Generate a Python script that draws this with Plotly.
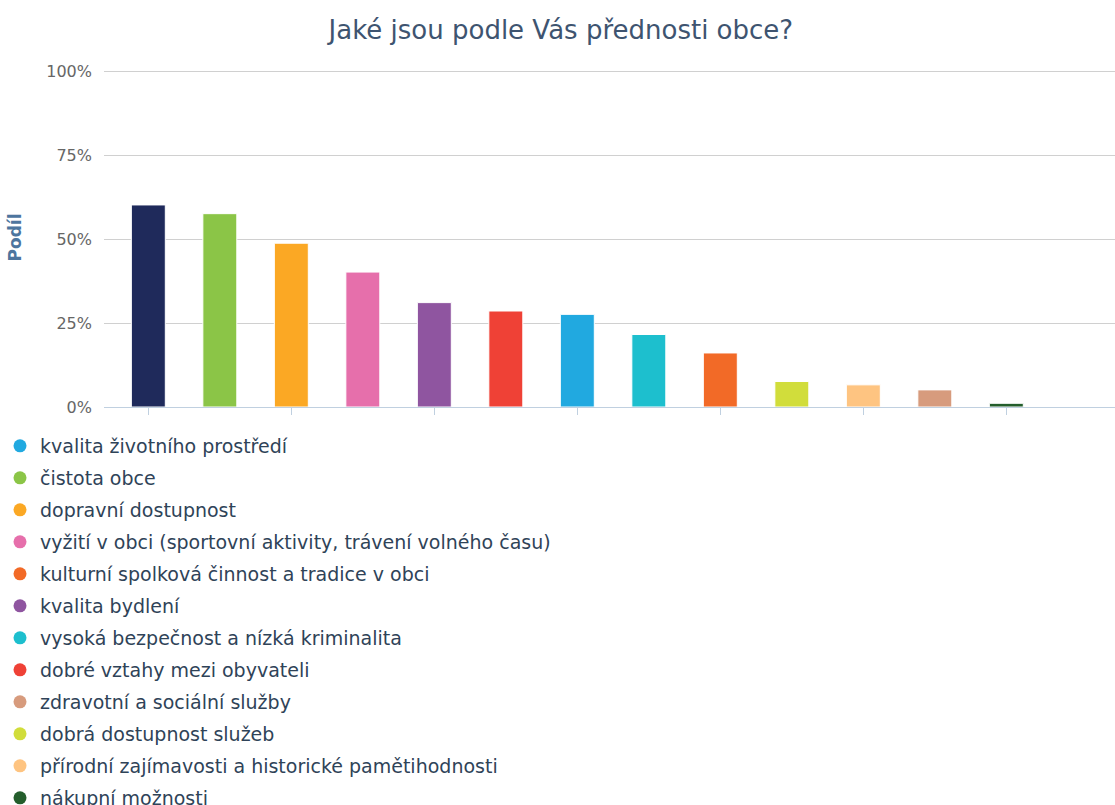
import plotly.graph_objects as go

# ---- data ----
bar_categories = [
    "kategorie 1",
    "čistota obce",
    "dopravní dostupnost",
    "vyžití v obci (sportovní aktivity, trávení volného času)",
    "kvalita bydlení",
    "dobré vztahy mezi obyvateli",
    "kvalita životního prostředí",
    "vysoká bezpečnost a nízká kriminalita",
    "kulturní spolková činnost a tradice v obci",
    "dobrá dostupnost služeb",
    "přírodní zajímavosti a historické pamětihodnosti",
    "zdravotní a sociální služby",
    "nákupní možnosti",
]
bar_values = [60.2, 57.6, 48.8, 40.2, 31.1, 28.6, 27.6, 21.6, 16.1, 7.6, 6.6, 5.1, 1.1]
bar_colors = ["#1f2a5b", "#8bc547", "#fba824", "#e66fab", "#8f55a0", "#ef4136",
              "#21a9e0", "#1dbfce", "#f26a27", "#d1dd3b", "#fec481", "#d79b7d", "#245e2c"]

legend_names = [
    "kvalita životního prostředí",
    "čistota obce",
    "dopravní dostupnost",
    "vyžití v obci (sportovní aktivity, trávení volného času)",
    "kulturní spolková činnost a tradice v obci",
    "kvalita bydlení",
    "vysoká bezpečnost a nízká kriminalita",
    "dobré vztahy mezi obyvateli",
    "zdravotní a sociální služby",
    "dobrá dostupnost služeb",
    "přírodní zajímavosti a historické pamětihodnosti",
    "nákupní možnosti",
]
legend_colors = ["#21a9e0", "#8bc547", "#fba824", "#e66fab", "#f26a27", "#8f55a0",
                 "#1dbfce", "#ef4136", "#d79b7d", "#d1dd3b", "#fec481", "#245e2c"]

y_ticks = [0, 25, 50, 75, 100]
y_tick_labels = ["0%", "25%", "50%", "75%", "100%"]

FONT = "DejaVu Sans"
W, H = 1115, 805
ML, MT, MB = 104, 68, 398
PW, PH = W - ML, H - MT - MB

fig = go.Figure()
fig.add_trace(go.Bar(
    x=list(range(len(bar_values))),
    y=bar_values,
    width=0.475,
    marker=dict(color=bar_colors, line=dict(color="white", width=1)),
    hovertext=bar_categories,
    showlegend=False,
))
for i, (name, col) in enumerate(zip(legend_names, legend_colors)):
    fig.add_trace(go.Scatter(
        x=[None], y=[None], mode="markers", name=name,
        legendgroup=f"g{i}",
        marker=dict(color=col, size=13, symbol="circle"),
    ))

fig.update_layout(
    width=W, height=H,
    paper_bgcolor="white", plot_bgcolor="white",
    margin=dict(l=ML, r=0, t=MT, b=MB, autoexpand=False),
    title=dict(text="Jaké jsou podle Vás přednosti obce?", x=0.503, xref="container",
               y=1 - 30 / H, yref="container", yanchor="middle",
               font=dict(family=FONT, size=26, color="#3e5470")),
    font=dict(family=FONT),
    showlegend=True,
    legend=dict(xref="paper", yref="paper",
                x=(0 - ML) / PW, y=(H - MB - 427) / PH,
                xanchor="left", yanchor="top", tracegroupgap=4.3,
                font=dict(family=FONT, size=19, color="#2f4358"),
                bgcolor="rgba(0,0,0,0)", traceorder="grouped"),
)
fig.update_xaxes(
    range=[-0.62, 13.52],
    tickvals=list(range(0, len(bar_values), 2)),
    showticklabels=False,
    ticks="outside", ticklen=7, tickcolor="#c0d0e0", tickwidth=1,
    showline=True, linecolor="#c0d0e0", linewidth=1,
    showgrid=False, zeroline=False,
)
fig.update_yaxes(
    range=[0, 101],
    tickvals=y_ticks, ticktext=y_tick_labels,
    tickfont=dict(family=FONT, size=16, color="#666666"),
    ticklabelstandoff=11,
    showgrid=True, gridcolor="#d0d0d0", gridwidth=1,
    zeroline=False, showline=False, ticks="",
    title=dict(text="<b>Podíl</b>", font=dict(family=FONT, size=17, color="#4d759e"), standoff=20),
)

fig.write_html("out.html", config={"displayModeBar": False},
               post_script="document.body.style.margin='0';")
